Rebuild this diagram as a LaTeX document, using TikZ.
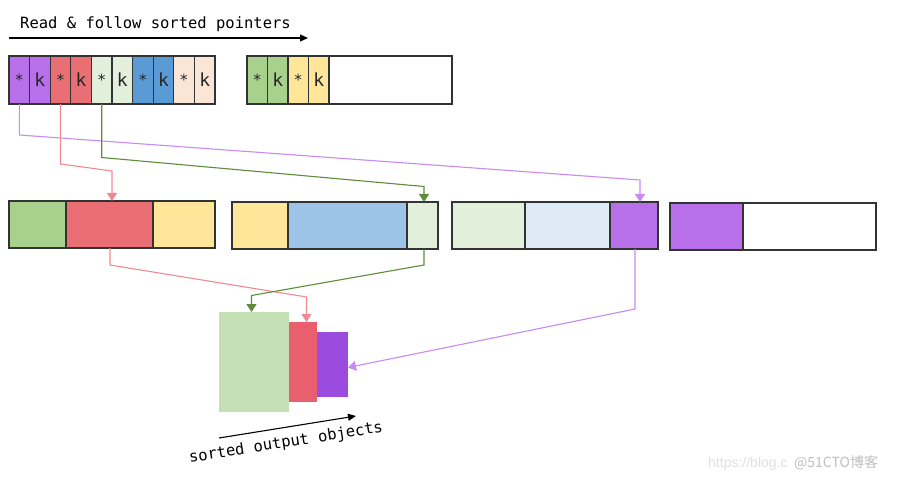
\documentclass[tikz,border=0pt]{standalone}
\usepackage{fontspec}
\setmonofont{DejaVu Sans Mono}
\newfontfamily\wmsans{Liberation Sans}
\newfontfamily\wmcjk{Noto Sans CJK SC}
\usetikzlibrary{arrows.meta}
\definecolor{cP}{HTML}{B870EA}
\definecolor{cR}{HTML}{EA6F75}
\definecolor{cLG}{HTML}{E2EFDA}
\definecolor{cB}{HTML}{5B9BD5}
\definecolor{cPE}{HTML}{FBE5D6}
\definecolor{cG}{HTML}{A9D18E}
\definecolor{cY}{HTML}{FFE699}
\definecolor{cLB}{HTML}{9DC3E6}
\definecolor{cVLB}{HTML}{DEEBF7}
\definecolor{oG}{HTML}{C5E0B4}
\definecolor{oR}{HTML}{EA5F6E}
\definecolor{oP}{HTML}{9B4CDF}
\definecolor{lnP}{HTML}{C98AF3}
\definecolor{lnR}{HTML}{F08A92}
\definecolor{lnG}{HTML}{5E8C3A}
\definecolor{bord}{HTML}{333333}
\newcommand{\st}{\raisebox{-0.28em}{\scalebox{0.85}{*}}}
\tikzset{
  cell/.style={draw=bord, line width=1.1pt, inner sep=0pt, outer sep=0pt, anchor=north west,
    font=\ttfamily\fontsize{18}{18}\selectfont, text=black!85},
  outbox/.style={inner sep=0pt, outer sep=0pt, anchor=north west},
  conn/.style={line width=1.1pt, -{Triangle[width=10pt,length=8pt]}},
  lbl/.style={font=\ttfamily\fontsize{15.5}{15.5}\selectfont, inner sep=0pt},
}
\begin{document}
\begin{tikzpicture}[x=1pt,y=-1pt]
\path[use as bounding box, fill=white] (0,0) rectangle (902,481);

% title
\node[lbl, anchor=base west] (title) at (20,29) {Read \& follow sorted pointers};
\coordinate (ta) at (9,38);
\coordinate (tb) at (308,38);
\draw[line width=1.1pt, -{Triangle[width=7pt,length=8pt]}] (ta) -- (tb);

% top row, first buffer
\foreach \i/\c/\t [evaluate=\i as \xx using {9+(\i-1)*20.6}] in
  {1/cP/\st,2/cP/k,3/cR/\st,4/cR/k,5/cLG/\st,6/cLG/k,7/cB/\st,8/cB/k,9/cPE/\st,10/cPE/k}
  \node[cell, fill=\c, minimum width=20.6pt, minimum height=48pt] (t\i) at (\xx,56) {\t};

% top row, second buffer
\node[cell, fill=cG, minimum width=20.5pt, minimum height=48pt] (t11) at (247,56) {\st};
\node[cell, fill=cG, minimum width=20.5pt, minimum height=48pt] (t12) at (267.5,56) {k};
\node[cell, fill=cY, minimum width=20.5pt, minimum height=48pt] (t13) at (288,56) {\st};
\node[cell, fill=cY, minimum width=20.5pt, minimum height=48pt] (t14) at (308.5,56) {k};
\node[cell, fill=white, minimum width=123pt, minimum height=48pt] (t15) at (329,56) {};

% middle row
\node[cell, fill=cG, minimum width=57pt, minimum height=47pt] (m1a) at (9,201) {};
\node[cell, fill=cR, minimum width=87pt, minimum height=47pt] (m1b) at (66,201) {};
\node[cell, fill=cY, minimum width=62pt, minimum height=47pt] (m1c) at (153,201) {};

\node[cell, fill=cY, minimum width=56pt, minimum height=47pt] (m2a) at (232,202) {};
\node[cell, fill=cLB, minimum width=119pt, minimum height=47pt] (m2b) at (288,202) {};
\node[cell, fill=cLG, minimum width=31pt, minimum height=47pt] (m2c) at (407,202) {};

\node[cell, fill=cLG, minimum width=73pt, minimum height=47pt] (m3a) at (452,202) {};
\node[cell, fill=cVLB, minimum width=85pt, minimum height=47pt] (m3b) at (525,202) {};
\node[cell, fill=cP, minimum width=48pt, minimum height=47pt] (m3c) at (610,202) {};

\node[cell, fill=cP, minimum width=73pt, minimum height=47pt] (m4a) at (670,203) {};
\node[cell, fill=white, minimum width=133pt, minimum height=47pt] (m4b) at (743,203) {};

% output objects
\node[outbox, fill=oG, minimum width=70pt, minimum height=100pt] (o1) at (219,312) {};
\node[outbox, fill=oR, minimum width=28pt, minimum height=80pt] (o2) at (289,322) {};
\node[outbox, fill=oP, minimum width=31pt, minimum height=65pt] (o3) at (317,332) {};

% connectors top -> middle
\draw[conn, draw=lnP] (t1.south) -- (t1.south |- 0,135) -- (640,180) -- (m3c.north -| 640,0);
\draw[conn, draw=lnR] (t3.south) -- (t3.south |- 0,164) -- (112,171) -- (m1b.north -| 112,0);
\draw[conn, draw=lnG] (t5.south) -- (t5.south |- 0,157.5) -- (424,186.5) -- (m2c.north -| 424,0);

% connectors middle -> output
\draw[conn, draw=lnR] (m1b.south -| 110,0) -- (110,265) -- (306.5,297) -- (o2.north -| 306.5,0);
\draw[conn, draw=lnG] (m2c.south -| 424,0) -- (424,265) -- (251.5,295.5) -- (o1.north -| 251.5,0);
\draw[conn, draw=lnP] (m3c.south -| 635,0) -- (635,309) -- (o3.east |- 0,367.5);

% bottom arrow and label
\coordinate (ba) at (219,438);
\coordinate (bb) at (356,416);
\draw[line width=1.1pt, -{Triangle[width=7pt,length=8pt]}] (ba) -- (bb);
\node[lbl, rotate=9] (olbl) at (286,443) {sorted output objects};

% watermark
\node[anchor=base west, inner sep=0pt, text=black!12, font=\wmsans\fontsize{14}{14}\selectfont] (wm1) at (708,467) {https://blog.c};
\node[anchor=base west, inner sep=0pt, text=black!25, font=\wmcjk\fontsize{14}{14}\selectfont] (wm2) at (794,467) {@51CTO博客};
\end{tikzpicture}
\end{document}
